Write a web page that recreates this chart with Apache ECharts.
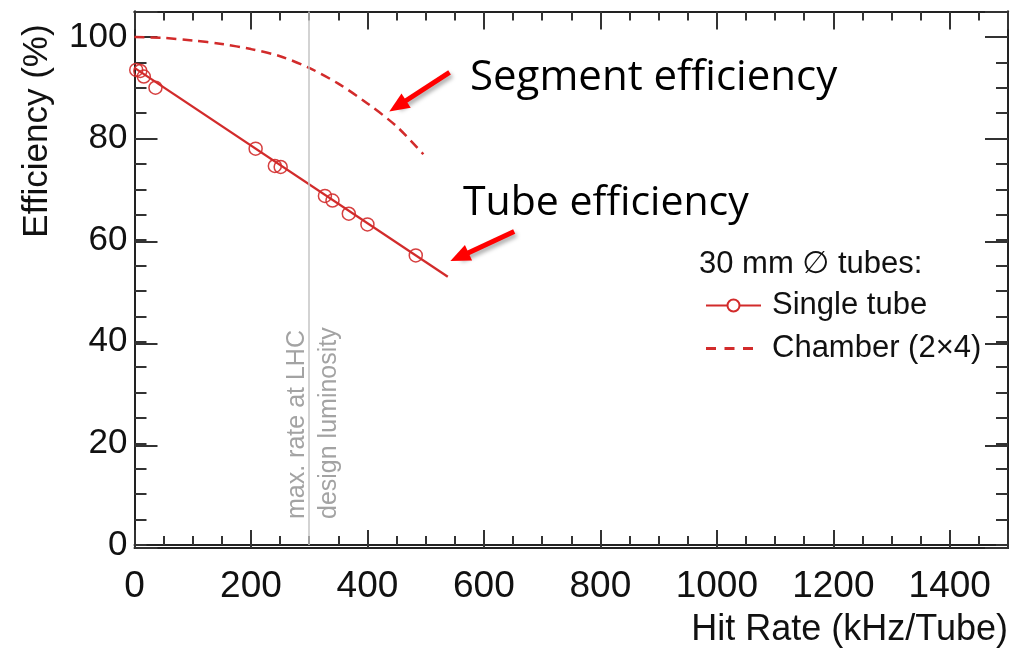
<!DOCTYPE html>
<html>
<head>
<meta charset="utf-8">
<script src="https://cdn.jsdelivr.net/npm/echarts@6/dist/echarts.min.js"></script>
<style>html,body{margin:0;padding:0;background:#fff}#c{width:1022px;height:648px}</style>
</head>
<body>
<div id="c"></div>
<script>
// ---- data ----
const xTickLabels = [0, 200, 400, 600, 800, 1000, 1200, 1400];
const yTickLabels = [0, 20, 40, 60, 80, 100];
const singleTubeRate = [3, 10, 16, 36, 208, 241, 251, 327, 340, 368, 400, 483];
const singleTubeEff  = [93.5, 93.3, 92.2, 90.0, 78.0, 74.6, 74.4, 68.7, 67.8, 65.2, 63.1, 57.0];
const fitRate = [0, 538];
const fitEff  = [93.9, 52.8];
const chamberRate = [0, 50, 100, 150, 200, 250, 300, 350, 400, 450, 496];
const chamberEff  = [100, 99.8, 99.3, 98.6, 97.6, 96.2, 93.9, 90.8, 86.9, 82.4, 76.9];
const lhcMaxRate = 300;
// annotation arrows: [tailRate, tailEff, headRate, headEff]
const segmentArrow = [541, 93.0, 452, 86.4];
const tubeArrow = [652, 61.7, 558, 56.7];

const RED = '#d22b2b';
const FONT = 'Liberation Sans';
const zip = (a, b) => a.map((v, i) => [v, b[i]]);

const gridRect = { left: 134.5, right: 14, top: 11.5, bottom: 100, containLabel: false };
function mkX(grid, pos, interval, len, extra) {
  return Object.assign({
    type: 'value', gridIndex: grid, position: pos, min: 0, max: 1500, interval: interval,
    axisLine: { show: true, onZero: false, lineStyle: { color: '#222', width: 2 } },
    axisTick: { show: true, inside: true, length: len, lineStyle: { color: '#333', width: 2 } },
    axisLabel: { show: false }, splitLine: { show: false }
  }, extra || {});
}
function mkY(grid, pos, interval, len, extra) {
  return Object.assign({
    type: 'value', gridIndex: grid, position: pos, min: 0, max: 105, interval: interval,
    axisLine: { show: true, onZero: false, lineStyle: { color: '#222', width: 2 } },
    axisTick: { show: true, inside: true, length: len, lineStyle: { color: '#333', width: 2 } },
    axisLabel: { show: false }, splitLine: { show: false }
  }, extra || {});
}

const chart = echarts.init(document.getElementById('c'), null, { renderer: 'canvas' });
chart.setOption({
  animation: false,
  backgroundColor: '#fff',
  grid: [Object.assign({}, gridRect), Object.assign({}, gridRect)],
  xAxis: [
    mkX(0, 'bottom', 50, 9, {
      axisLabel: {
        show: true, margin: 23, fontSize: 37, fontFamily: FONT, color: '#111',
        formatter: v => xTickLabels.indexOf(v) >= 0 ? String(v) : ''
      },
      name: 'Hit Rate (kHz/Tube)', nameLocation: 'end', nameGap: 0,
      nameTextStyle: { fontSize: 36, fontFamily: FONT, color: '#111', align: 'right', verticalAlign: 'top', padding: [67, 0, 0, 0] }
    }),
    mkX(0, 'top', 50, 9),
    mkX(1, 'bottom', 200, 18),
    mkX(1, 'top', 200, 18)
  ],
  yAxis: [
    mkY(0, 'left', 5, 12, {
      axisLabel: {
        show: true, margin: 7, fontSize: 35, fontFamily: FONT, color: '#111',
        formatter: v => yTickLabels.indexOf(v) >= 0 ? String(v) : ''
      }
    }),
    mkY(0, 'right', 5, 12),
    mkY(1, 'left', 20, 23),
    mkY(1, 'right', 20, 23)
  ],
  legend: {
    orient: 'vertical', left: 705, top: 290, padding: 0, itemGap: 12,
    itemWidth: 55, itemHeight: 15, selectedMode: false,
    textStyle: { fontFamily: FONT, fontSize: 31, color: '#111', padding: [0, 0, 0, 6] },
    data: [
      { name: 'Single tube' },
      { name: 'Chamber (2×4)', icon: 'path://M0,0M55,15M0,6h10v3h-10z M18.5,6h10v3h-10z M37,6h10v3h-10z' }
    ]
  },
  graphic: [
    { type: 'text', x: 37, y: 131, rotation: Math.PI / 2,
      style: { text: 'Efficiency (%)', font: '35px "Liberation Sans"', fill: '#111', textAlign: 'center', textVerticalAlign: 'middle' } },
    { type: 'text', x: 699, y: 264,
      style: { text: '30 mm \u2205 tubes:', font: '31px "Liberation Sans", "DejaVu Sans"', fill: '#111', textAlign: 'left', textVerticalAlign: 'middle' } },
    { type: 'text', x: 470, y: 78,
      style: { text: 'Segment efficiency', font: '42px "Open Sans"', fill: '#000', textAlign: 'left', textVerticalAlign: 'middle' } },
    { type: 'text', x: 463, y: 203,
      style: { text: 'Tube efficiency', font: '41px "Open Sans"', fill: '#000', textAlign: 'left', textVerticalAlign: 'middle' } }
  ],
  series: [
    {
      name: 'Single tube', type: 'line', xAxisIndex: 0, yAxisIndex: 0,
      data: zip(fitRate, fitEff), symbol: 'emptyCircle', symbolSize: 12, showSymbol: false,
      lineStyle: { color: RED, width: 2.3 }, itemStyle: { color: RED, borderWidth: 1.5 },
      emphasis: { disabled: true }, z: 3,
      markLine: {
        silent: true, animation: false, symbol: ['none', 'triangle'], symbolSize: [17, 20],
        label: { show: false }, emphasis: { disabled: true },
        lineStyle: { color: '#ff0000', width: 5, type: 'solid', shadowColor: 'rgba(0,0,0,0.35)', shadowBlur: 4, shadowOffsetX: 2, shadowOffsetY: 3 },
        data: [
          [{ coord: [segmentArrow[0], segmentArrow[1]] }, { coord: [segmentArrow[2], segmentArrow[3]] }],
          [{ coord: [tubeArrow[0], tubeArrow[1]] }, { coord: [tubeArrow[2], tubeArrow[3]] }]
        ]
      }
    },
    {
      name: 'Single tube', type: 'scatter', xAxisIndex: 0, yAxisIndex: 0,
      data: zip(singleTubeRate, singleTubeEff), symbol: 'circle', symbolSize: 13,
      itemStyle: { color: 'rgba(255,255,255,0)', borderColor: RED, borderWidth: 1.5, opacity: 0.9 },
      emphasis: { disabled: true }, z: 4,
      markLine: {
        silent: true, animation: false, symbol: ['none', 'none'], emphasis: { disabled: true },
        data: [
          { xAxis: lhcMaxRate, lineStyle: { color: '#c4c4c4', width: 1.5, type: 'solid' },
            label: { show: true, formatter: 'max. rate at LHC', position: 'insideStartTop', distance: [26, 0],
                     color: '#a3a3a3', fontSize: 25, fontFamily: FONT } },
          { xAxis: lhcMaxRate, lineStyle: { color: 'rgba(0,0,0,0)', width: 1, type: 'solid' },
            label: { show: true, formatter: 'design luminosity', position: 'insideStartBottom', distance: [26, 7],
                     color: '#a3a3a3', fontSize: 25, fontFamily: FONT } }
        ]
      }
    },
    {
      name: 'Chamber (2×4)', type: 'line', xAxisIndex: 0, yAxisIndex: 0,
      data: zip(chamberRate, chamberEff), symbol: 'none', smooth: 0.3,
      lineStyle: { color: RED, width: 2.5, type: [10, 6] }, itemStyle: { color: RED },
      emphasis: { disabled: true }, z: 3
    }
  ]
});
</script>
</body>
</html>
